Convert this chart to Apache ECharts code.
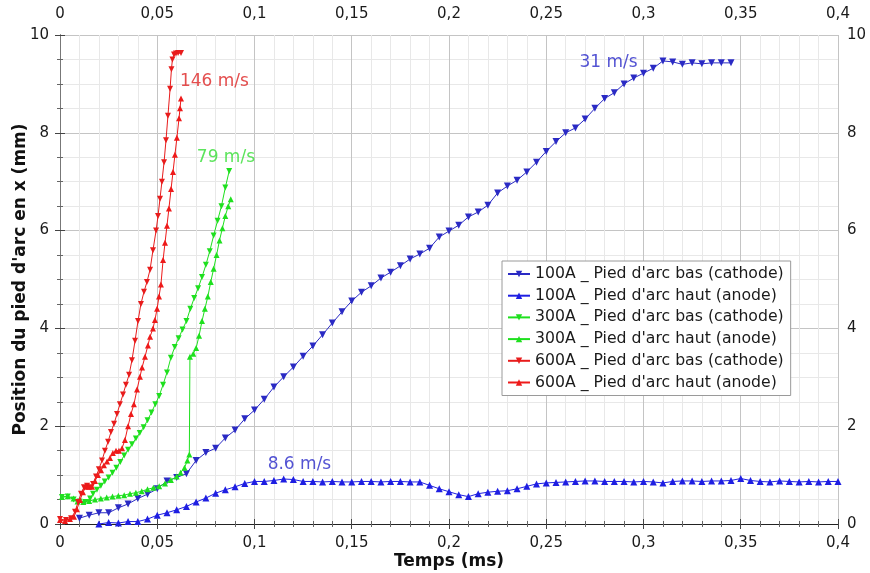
<!DOCTYPE html>
<html><head><meta charset="utf-8">
<script src="https://cdn.jsdelivr.net/npm/echarts@6/dist/echarts.min.js"></script>
<style>html,body{margin:0;padding:0;background:#fff}#c{width:870px;height:573px}</style>
</head><body><div id="c"></div>
<script>
// ---- data (time in ms, position in mm) ----
const t100Bas = [0.010,0.015,0.020,0.025,0.030,0.035,0.040,0.045,0.050,0.055,0.060,0.065,0.070,0.075,0.080,0.085,0.090,0.095,0.100,0.105,0.110,0.115,0.120,0.125,0.130,0.135,0.140,0.145,0.150,0.155,0.160,0.165,0.170,0.175,0.180,0.185,0.190,0.195,0.200,0.205,0.210,0.215,0.220,0.225,0.230,0.235,0.240,0.245,0.250,0.255,0.260,0.265,0.270,0.275,0.280,0.285,0.290,0.295,0.300,0.305,0.310,0.315,0.320,0.325,0.330,0.335,0.340,0.345];
const y100Bas = [0.12,0.18,0.23,0.23,0.33,0.41,0.52,0.61,0.72,0.88,0.95,1.03,1.30,1.46,1.55,1.76,1.92,2.15,2.33,2.55,2.80,3.01,3.21,3.43,3.64,3.87,4.11,4.34,4.56,4.74,4.87,5.03,5.15,5.28,5.42,5.52,5.64,5.87,5.99,6.11,6.28,6.38,6.52,6.77,6.91,7.03,7.20,7.40,7.62,7.82,8.00,8.10,8.28,8.50,8.70,8.82,9.00,9.12,9.22,9.32,9.47,9.45,9.40,9.43,9.41,9.43,9.43,9.43];

const t100Haut = [0.020,0.025,0.030,0.035,0.040,0.045,0.050,0.055,0.060,0.065,0.070,0.075,0.080,0.085,0.090,0.095,0.100,0.105,0.110,0.115,0.120,0.125,0.130,0.135,0.140,0.145,0.150,0.155,0.160,0.165,0.170,0.175,0.180,0.185,0.190,0.195,0.200,0.205,0.210,0.215,0.220,0.225,0.230,0.235,0.240,0.245,0.250,0.255,0.260,0.265,0.270,0.275,0.280,0.285,0.290,0.295,0.300,0.305,0.310,0.315,0.320,0.325,0.330,0.335,0.340,0.345,0.350,0.355,0.360,0.365,0.370,0.375,0.380,0.385,0.390,0.395,0.400];
const y100Haut = [0.00,0.03,0.02,0.05,0.05,0.10,0.18,0.23,0.29,0.36,0.45,0.53,0.63,0.70,0.76,0.83,0.87,0.87,0.89,0.92,0.91,0.87,0.87,0.86,0.87,0.86,0.86,0.87,0.87,0.86,0.87,0.87,0.86,0.86,0.79,0.72,0.66,0.60,0.56,0.62,0.65,0.67,0.68,0.72,0.77,0.82,0.84,0.85,0.86,0.87,0.88,0.88,0.87,0.87,0.87,0.86,0.87,0.86,0.84,0.87,0.88,0.88,0.87,0.88,0.88,0.89,0.93,0.89,0.87,0.86,0.88,0.87,0.86,0.87,0.86,0.87,0.87];

const t300Bas = [0.001,0.004,0.007,0.010,0.013,0.0155,0.017,0.019,0.021,0.023,0.025,0.027,0.029,0.031,0.033,0.035,0.037,0.039,0.041,0.043,0.045,0.047,0.049,0.051,0.053,0.055,0.057,0.059,0.061,0.063,0.065,0.067,0.069,0.071,0.073,0.075,0.077,0.079,0.081,0.083,0.085,0.087];
const y300Bas = [0.55,0.56,0.50,0.46,0.45,0.52,0.62,0.70,0.78,0.87,0.95,1.05,1.15,1.27,1.40,1.52,1.63,1.75,1.86,1.98,2.12,2.28,2.45,2.62,2.85,3.10,3.40,3.62,3.80,3.98,4.15,4.40,4.62,4.82,5.05,5.30,5.58,5.90,6.20,6.50,6.88,7.22];

const t300Haut = [0.001,0.004,0.007,0.009,0.012,0.015,0.018,0.021,0.024,0.027,0.030,0.033,0.036,0.039,0.042,0.045,0.048,0.051,0.054,0.057,0.060,0.062,0.064,0.0655,0.0665,0.0668,0.0685,0.0700,0.0715,0.0730,0.0745,0.0760,0.0775,0.0790,0.0805,0.0820,0.0835,0.0850,0.0865,0.0878];
const y300Haut = [0.55,0.57,0.52,0.46,0.45,0.47,0.50,0.52,0.54,0.56,0.58,0.59,0.62,0.64,0.67,0.71,0.74,0.77,0.83,0.90,0.97,1.05,1.15,1.30,1.42,3.42,3.48,3.60,3.85,4.15,4.40,4.65,4.95,5.22,5.50,5.80,6.05,6.30,6.50,6.64];

const t600Bas = [0.0000,0.0031,0.0057,0.0077,0.0093,0.0108,0.0123,0.0139,0.0154,0.0170,0.0185,0.0200,0.0216,0.0231,0.0247,0.0262,0.0278,0.0293,0.0308,0.0324,0.0339,0.0355,0.0370,0.0386,0.0401,0.0416,0.0432,0.0447,0.0463,0.0478,0.0494,0.0504,0.0514,0.0524,0.0535,0.0545,0.0555,0.0566,0.0573,0.0578,0.0586,0.0596,0.0607,0.0622];
const y600Bas = [0.10,0.08,0.12,0.25,0.45,0.62,0.75,0.78,0.75,0.82,0.97,1.12,1.30,1.50,1.68,1.88,2.05,2.25,2.45,2.65,2.85,3.05,3.35,3.75,4.15,4.50,4.75,4.95,5.20,5.60,6.00,6.30,6.65,7.00,7.40,7.85,8.35,8.90,9.30,9.50,9.60,9.62,9.63,9.63];

const t600Haut = [0.0000,0.0026,0.0051,0.0072,0.0087,0.0103,0.0118,0.0134,0.0149,0.0165,0.0180,0.0195,0.0211,0.0226,0.0242,0.0257,0.0272,0.0288,0.0303,0.0319,0.0334,0.0350,0.0365,0.0380,0.0396,0.0411,0.0422,0.0437,0.0452,0.0463,0.0478,0.0488,0.0499,0.0509,0.0519,0.0530,0.0540,0.0550,0.0560,0.0571,0.0581,0.0591,0.0601,0.0612,0.0617,0.0622];
const y600Haut = [0.08,0.06,0.10,0.15,0.30,0.49,0.65,0.76,0.76,0.76,0.88,1.00,1.10,1.20,1.28,1.35,1.45,1.50,1.50,1.55,1.72,2.00,2.25,2.45,2.75,3.01,3.20,3.42,3.65,3.83,4.00,4.17,4.40,4.65,4.90,5.40,5.75,6.10,6.45,6.85,7.20,7.55,7.90,8.30,8.50,8.70];

const seriesNames = ["100A _ Pied d'arc bas (cathode)","100A _ Pied d'arc haut (anode)","300A _ Pied d'arc bas (cathode)","300A _ Pied d'arc haut (anode)","600A _ Pied d'arc bas (cathode)","600A _ Pied d'arc haut (anode)"];
const xTicks = [0,0.05,0.1,0.15,0.2,0.25,0.3,0.35,0.4];
const yTicks = [0,2,4,6,8,10];
// annotation texts and their anchor (data coords)
const annTexts = ['146 m/s','79 m/s','31 m/s','8.6 m/s'];
const annT = [0.0794,0.0853,0.282,0.1231];
const annY = [9.04,7.50,9.43,1.21];

// ---- build ----
const zip = (a,b) => a.map((v,i)=>[v,b[i]]);
const colors = ['#2a2ac4','#1e1ee2','#1ee01e','#1ee01e','#e81c1c','#ee1a1a'];
const annColors = ['#dd2222','#33dd33','#2828c8','#2828c8'];
const dataSets = [zip(t100Bas,y100Bas),zip(t100Haut,y100Haut),zip(t300Bas,y300Bas),zip(t300Haut,y300Haut),zip(t600Bas,y600Bas),zip(t600Haut,y600Haut)];
const FONT = 'DejaVu Sans';
const fmt = v => String(+(+v).toFixed(3)).replace('.', ',');

const series = dataSets.map((d,i)=>({
  name: seriesNames[i], type:'line', data:d, xAxisIndex:0, yAxisIndex:0,
  symbol:'triangle', symbolSize: (i<2?7:6), symbolRotate: (i%2===0?180:0),
  lineStyle:{width:1,color:colors[i]}, itemStyle:{color:colors[i]},
  animation:false, z: 2+i
}));
series.push({
  type:'scatter', xAxisIndex:0, yAxisIndex:0, symbolSize:1, silent:true,
  itemStyle:{color:'rgba(0,0,0,0)'},
  data: annTexts.map((s,i)=>({value:[annT[i],annY[i]], label:{show:true, position:'inside', formatter:s, color:annColors[i], fontSize:17, fontFamily:FONT}})),
  animation:false, z:10
});

const axisCommon = {
  type:'value', axisLine:{show:true,lineStyle:{color:'#222',width:1}},
  axisTick:{show:true,inside:false,length:5,lineStyle:{color:'#444'}},
  minorTick:{show:true,length:3,lineStyle:{color:'#666'}},
  axisLabel:{color:'#1a1a1a',fontSize:15,fontFamily:FONT,formatter:fmt,margin:11}
};
const option = {
  backgroundColor:'#fff',
  animation:false,
  grid:{left:60,right:32,top:35,bottom:49,containLabel:false,outerBoundsMode:'none'},
  legend:{
    orient:'vertical', left:502, top:261, data:seriesNames,
    backgroundColor:'#fff', borderColor:'#9a9a9a', borderWidth:1,
    padding:[4,7,4,5], itemGap:3.7, itemWidth:22, itemHeight:8,
    textStyle:{fontFamily:FONT,fontSize:15.7,color:'#1a1a1a',lineHeight:18}
  },
  xAxis:[
    Object.assign({}, axisCommon, {position:'bottom', min:xTicks[0], max:xTicks[xTicks.length-1], interval:0.05,
      axisLabel:Object.assign({}, axisCommon.axisLabel, {margin:12}),
      minorTick:Object.assign({}, axisCommon.minorTick, {splitNumber:5}),
      splitLine:{show:true,lineStyle:{color:'#c4c4c4',width:1}},
      minorSplitLine:{show:true,lineStyle:{color:'#e8e8e8',width:1}},
      name:'Temps (ms)', nameLocation:'middle', nameGap:29, nameMoveOverlap:false,
      nameTextStyle:{fontFamily:FONT,fontSize:17,fontWeight:'bold',color:'#111'}}),
    Object.assign({}, axisCommon, {position:'top', min:xTicks[0], max:xTicks[xTicks.length-1], interval:0.05,
      axisLabel:Object.assign({}, axisCommon.axisLabel, {margin:13}),
      minorTick:Object.assign({}, axisCommon.minorTick, {splitNumber:5}),
      splitLine:{show:false}})
  ],
  yAxis:[
    Object.assign({}, axisCommon, {position:'left', min:yTicks[0], max:yTicks[yTicks.length-1], interval:2,
      minorTick:Object.assign({}, axisCommon.minorTick, {splitNumber:4}),
      splitLine:{show:true,lineStyle:{color:'#c4c4c4',width:1}},
      minorSplitLine:{show:true,lineStyle:{color:'#e8e8e8',width:1}},
      name:"Position du pied d'arc en x (mm)", nameLocation:'middle', nameGap:31, nameMoveOverlap:false,
      nameTextStyle:{fontFamily:FONT,fontSize:17,fontWeight:'bold',color:'#111'}}),
    Object.assign({}, axisCommon, {position:'right', min:yTicks[0], max:yTicks[yTicks.length-1], interval:2,
      axisLine:{show:true,lineStyle:{color:'#777',width:1}},
      axisLabel:Object.assign({}, axisCommon.axisLabel, {margin:9}),
      minorTick:Object.assign({}, axisCommon.minorTick, {splitNumber:4}),
      splitLine:{show:false}})
  ],
  series: series
};
const chart = echarts.init(document.getElementById('c'), null, {renderer:'canvas'});
chart.setOption(option);
</script></body></html>
